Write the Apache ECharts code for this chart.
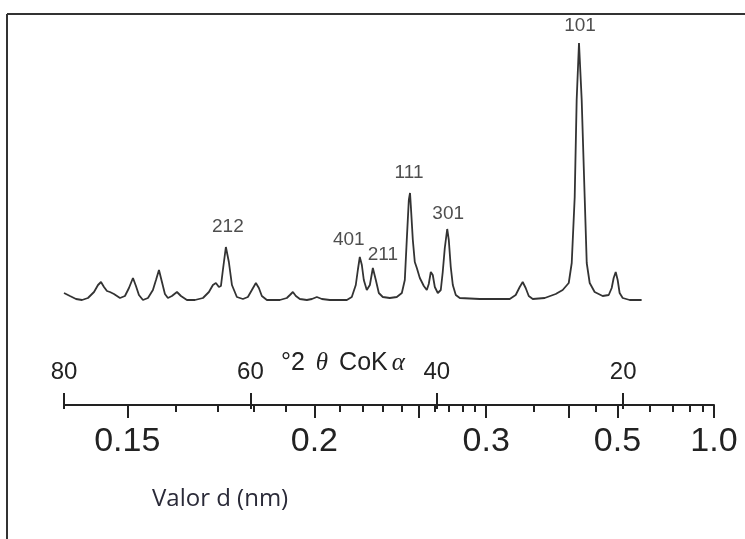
<!DOCTYPE html>
<html><head><meta charset="utf-8">
<script src="https://cdn.jsdelivr.net/npm/echarts@6/dist/echarts.min.js"></script>
<style>html,body{margin:0;padding:0;background:#fff}#c{width:745px;height:539px}</style>
</head><body><div id="c"></div>
<script>
// Diffraction pattern: 2θ (degrees, CoKα) and relative intensity
const twoTheta = [80.0,79.36,78.71,78.07,77.43,76.78,76.35,76.03,75.71,75.39,75.07,74.64,73.99,73.46,73.03,72.60,72.28,71.96,71.53,70.99,70.46,70.13,69.81,69.49,69.17,68.85,68.42,67.88,67.45,66.81,65.95,65.09,64.45,64.02,63.70,63.38,63.16,62.95,62.63,62.31,61.98,61.45,60.80,60.27,59.84,59.41,59.09,58.77,58.23,56.84,56.09,55.76,55.44,55.12,54.69,53.94,53.40,52.87,52.33,51.47,49.65,49.12,48.69,48.47,48.26,48.04,47.83,47.51,47.18,46.86,46.54,46.22,45.79,45.04,44.29,43.75,43.43,43.22,43.00,42.87,42.79,42.57,42.36,42.14,41.82,41.39,41.07,40.86,40.64,40.54,40.43,40.21,39.89,39.57,39.36,39.14,38.88,38.71,38.50,38.28,37.96,37.53,35.39,32.17,31.53,31.10,30.78,30.46,30.13,29.70,28.42,27.24,26.49,25.84,25.52,25.20,24.99,24.74,24.45,24.13,23.91,23.59,23.06,22.20,21.55,21.23,21.02,20.80,20.59,20.38,20.05,19.30,18.02];
const intensity = [7,4,1,0,2,8,15,18,13,9,8,6,2,4,12,22,14,5,0,2,10,20,30,18,6,2,4,8,4,0,0,2,8,15,17,13,14,30,53,38,15,3,1,3,10,17,12,4,0,0,2,5,8,4,1,0,1,3,1,0,0,3,15,30,43,35,20,10,15,32,20,7,3,2,3,7,20,60,100,107,95,60,38,32,22,14,10,16,28,30,25,13,7,10,28,52,71,60,33,15,5,2,1,1,5,13,18,12,4,1,2,6,10,17,37,103,200,257,200,103,37,17,8,4,5,12,22,28,20,7,2,0,0];
// Peak labels (Miller indices) at their peak tops
const peakLabels = ['212','401','211','111','301','101'];
const peakTheta = [62.63,48.26,46.86,42.87,38.88,24.74];
const peakIntensity = [53,43,32,107,71,257];
// Axis ticks
const thetaTicks = [80,60,40,20];
const dLabelValues = [0.15,0.2,0.3,0.5,1.0];
const dLabelTexts = ['0.15','0.2','0.3','0.5','1.0'];
const dMajorTicks = [0.15,0.2,0.25,0.3,0.4,0.5,1.0];
const dMinorTicks = [0.16,0.17,0.18,0.19,0.21,0.22,0.23,0.24,0.26,0.27,0.28,0.29,0.35,0.45,0.6,0.7,0.8,0.9];

const LAMBDA = 0.17889; // CoKα wavelength, nm
function toTheta(d){ return 2*Math.asin(LAMBDA/(2*d))*180/Math.PI; }
function toD(t){ return LAMBDA/(2*Math.sin(t/2*Math.PI/180)); }

const labelOffsets = {'212':[2,-20],'401':[-11,-17],'211':[10,-13],'111':[-1,-20],'301':[1,-15],'101':[1,-17]};

const xMin = toTheta(1.0) - 0.01, xMax = 80;
const axisColor = '#222';
const baseX = {
  type:'value', min:xMin, max:xMax, inverse:true, position:'bottom', offset:105,
  splitLine:{show:false}
};

const chart = echarts.init(document.getElementById('c'), null, {renderer:'canvas'});
chart.setOption({
  backgroundColor:'#fff',
  animation:false,
  grid:{left:64, right:31, top:0, bottom:239},
  xAxis:[
    Object.assign({}, baseX, {
      axisLine:{show:true, onZero:false, lineStyle:{color:axisColor, width:2}},
      axisTick:{show:true, inside:true, length:12, customValues:thetaTicks, lineStyle:{color:axisColor, width:2}},
      axisLabel:{show:true, inside:true, margin:21, customValues:thetaTicks, fontSize:24, color:'#222', fontFamily:'Liberation Sans'}
    }),
    Object.assign({}, baseX, {
      axisLine:{show:false, onZero:false},
      axisTick:{show:true, length:7, customValues:dMinorTicks.map(toTheta), lineStyle:{color:axisColor, width:2}},
      axisLabel:{show:false}
    }),
    Object.assign({}, baseX, {
      axisLine:{show:false, onZero:false},
      axisTick:{show:true, length:13, customValues:dMajorTicks.map(toTheta), lineStyle:{color:axisColor, width:2}},
      axisLabel:{show:true, margin:20, customValues:dLabelValues.map(toTheta), fontSize:34, color:'#222', fontFamily:'Liberation Sans',
        formatter:function(v){
          const d = toD(v); let best=0;
          dLabelValues.forEach((x,i)=>{ if(Math.abs(x-d)<Math.abs(dLabelValues[best]-d)) best=i; });
          return dLabelTexts[best];
        }}
    }),
    Object.assign({}, baseX, {
      axisLine:{show:false, onZero:false},
      axisTick:{show:true, length:4, customValues:thetaTicks, lineStyle:{color:axisColor, width:2}},
      axisLabel:{show:false}
    })
  ],
  yAxis:{type:'value', min:0, max:300, show:false},
  series:[
    {
      type:'line', xAxisIndex:0, showSymbol:false, symbol:'none',
      data: twoTheta.map((t,i)=>[t,intensity[i]]),
      lineStyle:{color:'#333', width:1.8}, smooth:false
    },
    {
      type:'scatter', xAxisIndex:0, symbolSize:0,
      data: peakLabels.map((n,i)=>({value:[peakTheta[i],peakIntensity[i]], name:n,
        label:{offset:labelOffsets[n]}})),
      label:{show:true, position:'inside', formatter:p=>p.name, fontSize:19, color:'#222', fontFamily:'Liberation Sans'},
      silent:true
    }
  ],
  graphic:[
    {type:'line', shape:{x1:7,y1:14,x2:745,y2:14}, style:{stroke:'#333', lineWidth:2}},
    {type:'line', shape:{x1:7,y1:14,x2:7,y2:539}, style:{stroke:'#333', lineWidth:2}},
    {type:'text', left:281, top:351, style:{
      text:'{a|°2 }{b|θ}{a| CoK}{b|α}',
      rich:{
        a:{fontSize:25, fontFamily:'Liberation Sans', fill:'#222'},
        b:{fontSize:25, fontFamily:'Liberation Serif', fontStyle:'italic', fill:'#222', padding:[0,4,0,4]}
      }}},
    {type:'text', left:152, top:487, style:{text:'Valor d (nm)', fontSize:24, fontFamily:'Open Sans', fill:'#2a2a38'}}
  ]
});
</script>
</body></html>
